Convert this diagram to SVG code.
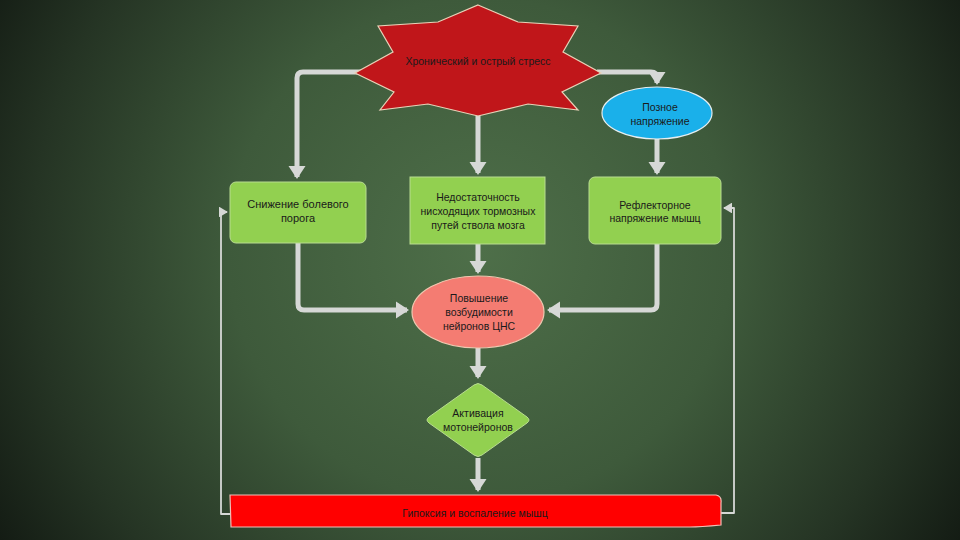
<svg xmlns="http://www.w3.org/2000/svg" width="960" height="540" viewBox="0 0 960 540">
<defs>
<radialGradient id="bg" cx="480" cy="250" r="560" gradientUnits="userSpaceOnUse">
<stop offset="0" stop-color="#4e6f49"/>
<stop offset="0.45" stop-color="#3e5a3b"/>
<stop offset="0.8" stop-color="#253424"/>
<stop offset="1" stop-color="#141c14"/>
</radialGradient>
<marker id="ah" markerWidth="4" markerHeight="4" refX="2.2" refY="2" orient="auto" markerUnits="strokeWidth">
<path d="M0,0.3 L2.6,2 L0,3.7 Z" fill="#d6d8d6"/>
</marker>
<marker id="ahs" markerWidth="6" markerHeight="6" refX="4.5" refY="3" orient="auto" markerUnits="strokeWidth">
<path d="M0,0 L5,3 L0,6 Z" fill="#d6d8d6"/>
</marker>
<style>
.t{font-family:"Liberation Sans",Arial,sans-serif;font-size:10.5px;fill:#1a1a1a;text-anchor:middle}
.c{fill:none;stroke:#d6d8d6;stroke-width:5;stroke-linejoin:round;stroke-linecap:butt}
.f{fill:none;stroke:#d6d8d6;stroke-width:1.8;stroke-linejoin:round}
.g{fill:#92d050;stroke:#b8dc90;stroke-width:1}
</style>
</defs>
<rect width="960" height="540" fill="#2a3a29"/>
<rect width="960" height="540" fill="url(#bg)"/>
<g id="connectors">
<path class="c" d="M362,72 H303 Q297,72 297,78 V177" marker-end="url(#ah)"/>
<path class="c" d="M478,95 V173" marker-end="url(#ah)"/>
<path class="c" d="M597,72 H651 Q657,72 657,78 V83" marker-end="url(#ah)"/>
<path class="c" d="M657,139 V173" marker-end="url(#ah)"/>
<path class="c" d="M298,243 V304 Q298,310 304,310 H407" marker-end="url(#ah)"/>
<path class="c" d="M478,244 V272" marker-end="url(#ah)"/>
<path class="c" d="M657,244 V304 Q657,310 651,310 H549" marker-end="url(#ah)"/>
<path class="c" d="M478,348 V377" marker-end="url(#ah)"/>
<path class="c" d="M478,458 V490" marker-end="url(#ah)"/>
<path class="f" d="M231,514 H221 V212 H227" marker-end="url(#ahs)"/>
<path class="f" d="M720,513 H734 V208 H724" marker-end="url(#ahs)"/>
</g>
<g id="stress">
<polygon points="478,5 518,22 578,26 563,52 601,73 562,92 578,110 528,104 478,116 428,104 380,110 394,92 355,73 393,52 378,26 438,22" fill="#c0161a" stroke="#e8d2b8" stroke-width="1.2" stroke-linejoin="miter"/>
<text class="t" x="478" y="65">Хронический и острый стресс</text>
</g>
<g id="posture">
<ellipse cx="657" cy="113" rx="55" ry="26" fill="#1ab0ea" stroke="#e6eef0" stroke-width="1.2"/>
<text class="t" x="660" y="111">Позное</text>
<text class="t" x="660" y="125">напряжение</text>
</g>
<g id="pain">
<rect class="g" x="230" y="182" width="136" height="61" rx="6"/>
<text class="t" x="298" y="208" style="font-size:11px">Снижение болевого</text>
<text class="t" x="298" y="222" style="font-size:11px">порога</text>
</g>
<g id="insufficiency">
<rect class="g" x="410" y="177" width="135" height="67"/>
<text class="t" x="478" y="201">Недостаточность</text>
<text class="t" x="478" y="215">нисходящих тормозных</text>
<text class="t" x="478" y="229">путей ствола мозга</text>
</g>
<g id="reflex">
<rect class="g" x="589" y="177" width="132" height="67" rx="6"/>
<text class="t" x="655" y="209">Рефлекторное</text>
<text class="t" x="655" y="222">напряжение мышц</text>
</g>
<g id="excitability">
<ellipse cx="478" cy="312" rx="66" ry="36" fill="#f47c72" stroke="#f0c8b0" stroke-width="1.2"/>
<text class="t" x="479" y="302">Повышение</text>
<text class="t" x="479" y="316">возбудимости</text>
<text class="t" x="479" y="330">нейронов ЦНС</text>
</g>
<g id="activation">
<path class="g" d="M474,385 Q478,382 482,385 L527,417 Q531,420 527,423 L482,455 Q478,458 474,455 L429,423 Q425,420 429,417 Z"/>
<text class="t" x="478" y="417">Активация</text>
<text class="t" x="478" y="431">мотонейронов</text>
</g>
<g id="hypoxia">
<path d="M230,495 H716 Q722,496 721,503 V525 Q700,527 690,527 H231 Z" fill="#ff0000" stroke="#f0c0b8" stroke-width="1.2"/>
<text class="t" x="475" y="517">Гипоксия и воспаление мышц</text>
</g>
</svg>
